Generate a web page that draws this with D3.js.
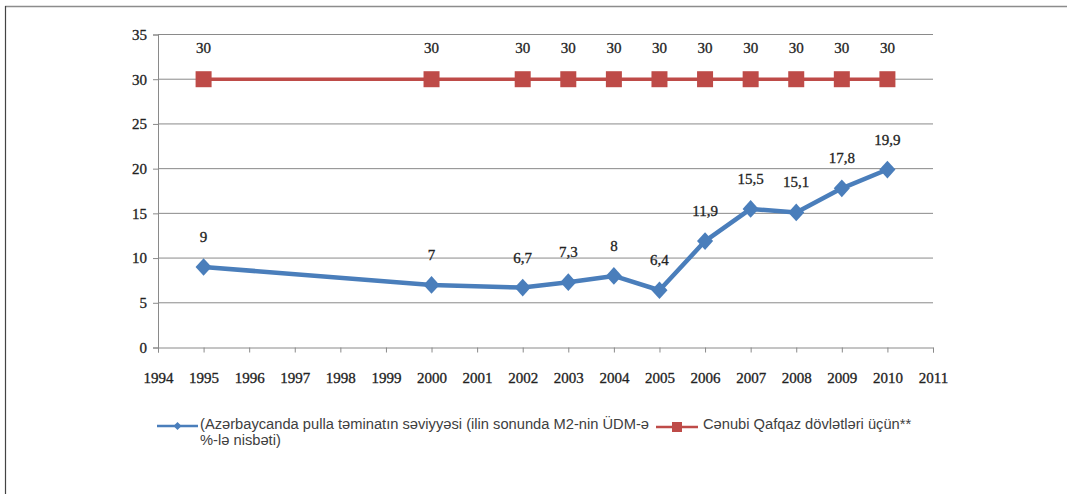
<!DOCTYPE html>
<html>
<head>
<meta charset="utf-8">
<script src="https://cdn.jsdelivr.net/npm/d3@7"></script>
<style>
  body { margin: 0; background: #fff; }
  .tick text { font-family: "Liberation Serif", serif; font-size: 15px; fill: #222; stroke: #222; stroke-width: 0.3px; }
  .lbl { font-family: "Liberation Serif", serif; font-size: 15px; fill: #222; stroke: #222; stroke-width: 0.3px; }
  .leg { font-family: "Liberation Sans", Arial, sans-serif; font-size: 14.7px; fill: #404040; }
</style>
</head>
<body>
<div id="chart"></div>
<script>
// chart values
var blueYears = [1995, 2000, 2002, 2003, 2004, 2005, 2006, 2007, 2008, 2009, 2010],
    blueValues = [9, 7, 6.7, 7.3, 8, 6.4, 11.9, 15.5, 15.1, 17.8, 19.9],
    blueLabels = ["9", "7", "6,7", "7,3", "8", "6,4", "11,9", "15,5", "15,1", "17,8", "19,9"];
var redYears = [1995, 2000, 2002, 2003, 2004, 2005, 2006, 2007, 2008, 2009, 2010],
    redValues = [30, 30, 30, 30, 30, 30, 30, 30, 30, 30, 30];
var yearTicks = d3.range(1994, 2012),
    valueTicks = [0, 5, 10, 15, 20, 25, 30, 35];
var legendNames = ["(Azərbaycanda pulla təminatın səviyyəsi (ilin sonunda M2-nin ÜDM-ə", "%-lə nisbəti)"],
    legendRed = "Cənubi Qafqaz dövlətləri üçün**";

var width = 1067, height = 494;
var blue = "#4a7ebb", red = "#be4b48";

var svg = d3.select("#chart").append("svg")
    .attr("width", width)
    .attr("height", height);

// frame of the picture
svg.append("line").attr("x1", 5).attr("x2", width).attr("y1", 6.5).attr("y2", 6.5)
    .attr("stroke", "#8c8c8c").attr("stroke-width", 1.5);
svg.append("line").attr("x1", 5.5).attr("x2", 5.5).attr("y1", 6).attr("y2", height)
    .attr("stroke", "#444").attr("stroke-width", 1.2);

var x = d3.scaleLinear().domain([1994, 2011]).range([158, 933]);
var y = d3.scaleLinear().domain([0, 35]).range([347.5, 34.5]);

// gridlines
svg.append("g").selectAll("line")
    .data(valueTicks.filter(function(d) { return d > 0; }))
    .enter().append("line")
    .attr("x1", 158).attr("x2", 933)
    .attr("y1", function(d) { return y(d); })
    .attr("y2", function(d) { return y(d); })
    .attr("stroke", "#8a8a8a").attr("stroke-width", 1);

// axes
var yAxis = svg.append("g")
    .attr("transform", "translate(158,0)")
    .call(d3.axisLeft(y).tickValues(valueTicks).tickSize(5).tickPadding(6));
var xAxis = svg.append("g")
    .attr("transform", "translate(0,347.5)")
    .call(d3.axisBottom(x).tickValues(yearTicks).tickFormat(d3.format("d")).tickSize(5).tickPadding(20));
[yAxis, xAxis].forEach(function(a) {
    a.select(".domain").attr("stroke", "#8a8a8a");
    a.selectAll(".tick line").attr("stroke", "#8a8a8a");
    a.attr("font-family", null).attr("font-size", null);
});

var blueData = blueYears.map(function(d, i) { return {x: d, v: blueValues[i], l: blueLabels[i]}; });
var redData = redYears.map(function(d, i) { return {x: d, v: redValues[i], l: String(redValues[i])}; });

var line = d3.line()
    .x(function(d) { return x(d.x); })
    .y(function(d) { return y(d.v); });

// red series
svg.append("path").datum(redData)
    .attr("d", line).attr("fill", "none")
    .attr("stroke", red).attr("stroke-width", 3.5);
svg.selectAll(".sq").data(redData).enter().append("rect")
    .attr("class", "sq")
    .attr("x", function(d) { return x(d.x) - 8; })
    .attr("y", function(d) { return y(d.v) - 8; })
    .attr("width", 16).attr("height", 16)
    .attr("fill", red);
svg.selectAll(".rl").data(redData).enter().append("text")
    .attr("class", "lbl rl")
    .attr("x", function(d) { return x(d.x); })
    .attr("y", function(d) { return y(d.v) - 26; })
    .attr("text-anchor", "middle")
    .text(function(d) { return d.l; });

// blue series
svg.append("path").datum(blueData)
    .attr("d", line).attr("fill", "none")
    .attr("stroke", blue).attr("stroke-width", 4.5)
    .attr("stroke-linejoin", "round");
var diamond = d3.symbol().type(d3.symbolDiamond2).size(165);
svg.selectAll(".dm").data(blueData).enter().append("path")
    .attr("class", "dm")
    .attr("d", diamond)
    .attr("transform", function(d) { return "translate(" + x(d.x) + "," + y(d.v) + ") scale(1,1.1)"; })
    .attr("fill", blue);
svg.selectAll(".bl").data(blueData).enter().append("text")
    .attr("class", "lbl bl")
    .attr("x", function(d) { return x(d.x); })
    .attr("y", function(d) { return y(d.v) - 25; })
    .attr("text-anchor", "middle")
    .text(function(d) { return d.l; });

// legend
var leg = svg.append("g");
leg.append("line").attr("x1", 157).attr("x2", 198).attr("y1", 426).attr("y2", 426)
    .attr("stroke", blue).attr("stroke-width", 2.5);
leg.append("path").attr("d", d3.symbol().type(d3.symbolDiamond2).size(40))
    .attr("transform", "translate(177.5,426)").attr("fill", blue);
leg.selectAll(".lt").data(legendNames).enter().append("text")
    .attr("class", "leg lt")
    .attr("x", 200)
    .attr("y", function(d, i) { return 429 + i * 16; })
    .text(function(d) { return d; });

leg.append("line").attr("x1", 656).attr("x2", 698).attr("y1", 427).attr("y2", 427)
    .attr("stroke", red).attr("stroke-width", 2.5);
leg.append("rect").attr("x", 672).attr("y", 422).attr("width", 10).attr("height", 10)
    .attr("fill", red);
leg.append("text").attr("class", "leg")
    .attr("x", 703).attr("y", 429)
    .text(legendRed);
</script>
</body>
</html>
